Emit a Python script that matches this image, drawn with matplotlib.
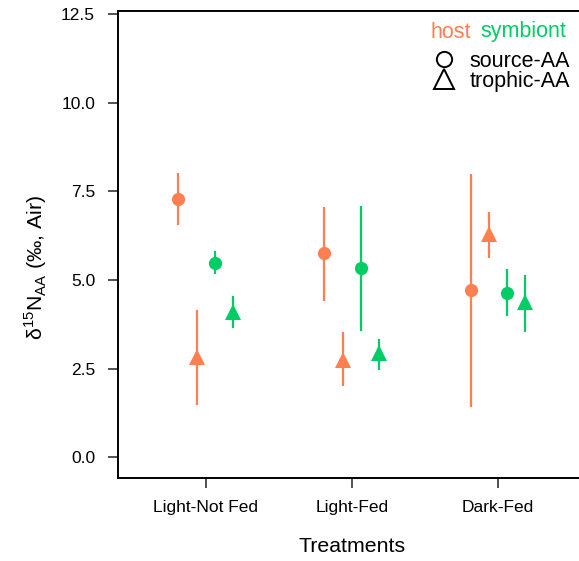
import numpy as np
import matplotlib
matplotlib.use("Agg")
import matplotlib.pyplot as plt
from matplotlib.lines import Line2D

plt.rcParams['font.family'] = ['Liberation Sans', 'DejaVu Sans']
plt.rcParams['mathtext.fontset'] = 'custom'
plt.rcParams['mathtext.rm'] = 'Liberation Sans'

treatments = ["Light-Not Fed", "Light-Fed", "Dark-Fed"]

# host source-AA
host_src = [7.28, 5.75, 4.72]
host_src_lo = [6.55, 4.42, 1.43]
host_src_hi = [8.02, 7.05, 7.99]
# host trophic-AA
host_tro = [2.83, 2.75, 6.30]
host_tro_lo = [1.48, 2.00, 5.63]
host_tro_hi = [4.15, 3.53, 6.92]
# symbiont source-AA
sym_src = [5.49, 5.33, 4.64]
sym_src_lo = [5.17, 3.57, 3.99]
sym_src_hi = [5.83, 7.09, 5.31]
# symbiont trophic-AA
sym_tro = [4.11, 2.93, 4.39]
sym_tro_lo = [3.65, 2.46, 3.53]
sym_tro_hi = [4.56, 3.34, 5.14]

c_host = "#FF7F50"
c_sym = "#00CD66"

fig = plt.figure(figsize=(5.79, 5.61), dpi=100)
ax = fig.add_axes([118 / 579, 1 - 478 / 561, (585.6 - 118) / 579, (478 - 10.7) / 561])

x = np.arange(1, 4)
series = [
    (host_src, host_src_lo, host_src_hi, -0.1875, c_host, "o"),
    (host_tro, host_tro_lo, host_tro_hi, -0.0625, c_host, "^"),
    (sym_src, sym_src_lo, sym_src_hi, 0.0625, c_sym, "o"),
    (sym_tro, sym_tro_lo, sym_tro_hi, 0.1875, c_sym, "^"),
]
for y, lo, hi, off, col, mk in series:
    y = np.array(y)
    err = [y - np.array(lo), np.array(hi) - y]
    ax.errorbar(x + off, y, yerr=err, fmt=mk, color=col, ecolor=col,
                elinewidth=1.6, capsize=0, markersize=11.5 if mk == "^" else 9.5,
                markeredgewidth=0, zorder=3)

ax.set_xlim(0.4, 3.6)
ax.set_ylim(-0.58, 12.59)
ax.set_xticks(x)
ax.set_xticklabels(treatments)
ax.set_yticks([0, 2.5, 5, 7.5, 10, 12.5])
ax.set_yticklabels(["0.0", "2.5", "5.0", "7.5", "10.0", "12.5"])
ax.tick_params(axis="both", labelsize=12.5, length=7, width=1.2, color="#333333")
ax.tick_params(axis="y", pad=9.5)
ax.tick_params(axis="x", pad=9)
for s in ax.spines.values():
    s.set_linewidth(1.4)

ax.set_xlabel("Treatments", fontsize=15.3, labelpad=16)
ax.set_ylabel("δ$^{15}$N$_{\\mathrm{AA}}$ (‰, Air)", fontsize=15.3)
ax.yaxis.set_label_coords(-0.147, 0.45)

# legend
fig.text(430 / 579, 1 - 32 / 561, "host", color=c_host, fontsize=15.5, va="center")
fig.text(480 / 579, 1 - 32 / 561, "symbiont", color=c_sym, fontsize=15.5, va="center")
handles = [
    Line2D([], [], marker="o", linestyle="none", markerfacecolor="none",
           markeredgecolor="black", markersize=11, markeredgewidth=1.4),
    Line2D([], [], marker="^", linestyle="none", markerfacecolor="none",
           markeredgecolor="black", markersize=14.5, markeredgewidth=1.4),
]
fig.legend(handles, ["source-AA", "trophic-AA"], loc="upper left",
           bbox_to_anchor=(420 / 579, 1 - 40 / 561), frameon=False,
           fontsize=15.5, handletextpad=0.6, labelspacing=-0.05,
           borderpad=0, handlelength=1.2)

fig.savefig("out.png", dpi=100)
